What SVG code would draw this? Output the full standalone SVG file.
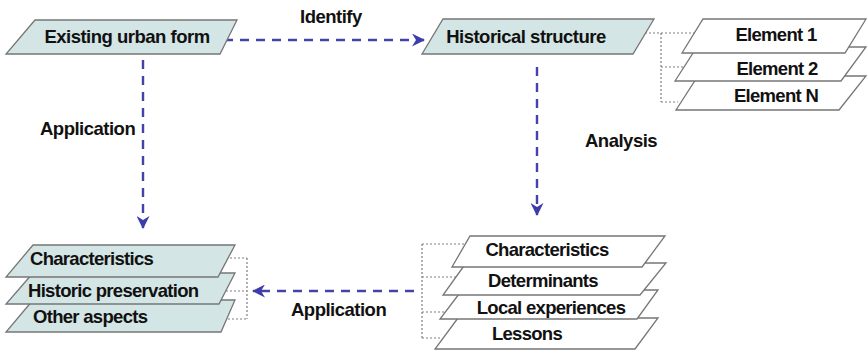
<svg xmlns="http://www.w3.org/2000/svg" width="868" height="353" viewBox="0 0 868 353">
  <style>
    .blue { fill: #d3e5e4; stroke: #767676; stroke-width: 1.3; }
    .white { fill: #ffffff; stroke: #767676; stroke-width: 1.3; }
    .t { font-family: "Liberation Sans", Arial, sans-serif; font-weight: bold; font-size: 18.5px; letter-spacing: -0.7px; fill: #111; }
    .big { letter-spacing: -0.5px; }
    .flow { fill: none; stroke: #4343a8; stroke-width: 2.4; stroke-dasharray: 9 7; }
    .dot { fill: none; stroke: #7e7e7e; stroke-width: 1.2; stroke-dasharray: 2 2; }
  </style>
  <defs>
    <marker id="arrow" markerUnits="userSpaceOnUse" markerWidth="13" markerHeight="13" viewBox="0 0 13 13" refX="12" refY="6.5" orient="auto">
      <path d="M0,0 L13,6.5 L0,13 L4,6.5 Z" fill="#3d3daa"/>
    </marker>
  </defs>

  <!-- connectors -->
  <g id="connectors">
    <line class="flow" x1="224" y1="40" x2="424" y2="40" marker-end="url(#arrow)"/>
    <line class="flow" x1="143" y1="60" x2="143" y2="228" marker-end="url(#arrow)"/>
    <line class="flow" x1="537" y1="67" x2="537" y2="215" marker-end="url(#arrow)"/>
    <line class="flow" x1="414" y1="291" x2="253" y2="291" marker-end="url(#arrow)"/>

    <!-- structure to elements -->
    <path class="dot" d="M645,33 H698 M661,33 V102 M661,67 H684 M661,102 H678"/>
    <!-- lessons bracket -->
    <path class="dot" d="M422,244 V338 M422,244 H465 M422,277 H456 M422,312 H446 M422,338 H441"/>
    <!-- application bracket -->
    <path class="dot" d="M247,258 V319 M226,258 H247 M226,291 H247 M224,319 H247"/>

    <text class="t big" x="300" y="23">Identify</text>
    <text class="t big" x="40" y="135">Application</text>
    <text class="t big" x="585" y="147">Analysis</text>
    <text class="t big" x="291" y="316">Application</text>
  </g>

  <g id="existing-urban-form">
    <polygon class="blue" points="35,20 237,20 220,54 6,54"/>
    <text class="t big" x="127" y="43" text-anchor="middle">Existing urban form</text>
  </g>

  <g id="historical-structure">
    <polygon class="blue" points="443,19 654,19 633,54 422,54"/>
    <text class="t big" x="526" y="43" text-anchor="middle">Historical structure</text>
  </g>

  <!-- element stack, back to front -->
  <g id="element-n">
    <polygon class="white" points="698,76 866,76 839,110 676,110"/>
    <text class="t" x="776" y="102" text-anchor="middle">Element N</text>
  </g>
  <g id="element-2">
    <polygon class="white" points="697,47 866,47 841,81 675,81"/>
    <text class="t" x="777" y="75" text-anchor="middle">Element 2</text>
  </g>
  <g id="element-1">
    <polygon class="white" points="703,19 866,19 845,53 682,53"/>
    <text class="t" x="776" y="41" text-anchor="middle">Element 1</text>
  </g>

  <!-- findings stack, back to front -->
  <g id="lessons">
    <polygon class="white" points="458,318 658,318 635,349 435,349"/>
    <text class="t" x="527" y="340" text-anchor="middle">Lessons</text>
  </g>
  <g id="local-experiences">
    <polygon class="white" points="462,290 658,290 637,319 440,319"/>
    <text class="t" x="551" y="314" text-anchor="middle">Local experiences</text>
  </g>
  <g id="determinants">
    <polygon class="white" points="466,263 666,263 640,295 443,295"/>
    <text class="t" x="543" y="287" text-anchor="middle">Determinants</text>
  </g>
  <g id="characteristics-findings">
    <polygon class="white" points="470,236 665,236 642,267 452,267"/>
    <text class="t" x="547" y="256" text-anchor="middle">Characteristics</text>
  </g>

  <!-- application stack, back to front -->
  <g id="other-aspects">
    <polygon class="blue" points="33,300 235,300 221,332 6,332"/>
    <text class="t" x="33" y="323">Other aspects</text>
  </g>
  <g id="historic-preservation">
    <polygon class="blue" points="33,273 235,273 219,304 6,304"/>
    <text class="t" x="28" y="297">Historic preservation</text>
  </g>
  <g id="characteristics-application">
    <polygon class="blue" points="33,245 235,245 218,277 6,277"/>
    <text class="t" x="30" y="265">Characteristics</text>
  </g>
</svg>
